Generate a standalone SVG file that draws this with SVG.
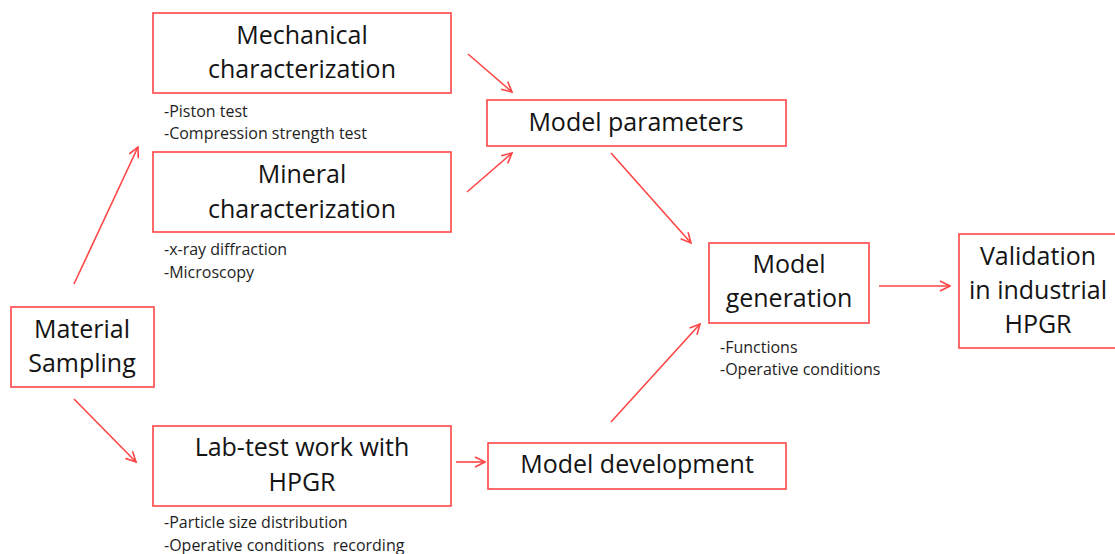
<svg xmlns="http://www.w3.org/2000/svg" width="1115" height="554" viewBox="0 0 1115 554">
  <style>
    .box { fill: #ffffff; stroke: #ff4545; stroke-width: 1.6; }
    .title { font-family: "Open Sans", "Liberation Sans", sans-serif; font-size: 25px; fill: #141414; text-anchor: middle; }
    .note { font-family: "Open Sans", "Liberation Sans", sans-serif; font-size: 16px; fill: #1e1e1e; }
    .conn { fill: none; stroke: #ff4545; stroke-width: 1.6; marker-end: url(#arrow); }
  </style>
  <defs>
    <marker id="arrow" viewBox="0 0 12 12" refX="11" refY="6" markerWidth="12" markerHeight="12" markerUnits="userSpaceOnUse" orient="auto">
      <path d="M1,1 L11,6 L1,11" fill="none" stroke="#ff4545" stroke-width="1.6"/>
    </marker>
  </defs>
  <rect width="1115" height="554" fill="#ffffff"/>

  <g id="connectors">
    <line class="conn" x1="74" y1="284" x2="138" y2="147"/>
    <line class="conn" x1="74" y1="399" x2="136" y2="462"/>
    <line class="conn" x1="468" y1="54" x2="512" y2="92"/>
    <line class="conn" x1="467" y1="192" x2="512" y2="153"/>
    <line class="conn" x1="611" y1="153" x2="691" y2="243"/>
    <line class="conn" x1="456" y1="462" x2="485" y2="462"/>
    <line class="conn" x1="611" y1="422" x2="700" y2="324"/>
    <line class="conn" x1="879" y1="286" x2="950" y2="286"/>
  </g>

  <g id="material-sampling">
    <rect class="box" x="11" y="307" width="143" height="80"/>
    <text class="title" x="82" y="338">Material</text>
    <text class="title" x="82" y="372">Sampling</text>
  </g>

  <g id="mechanical-characterization">
    <rect class="box" x="153" y="13" width="298" height="80"/>
    <text class="title" x="302" y="44">Mechanical</text>
    <text class="title" x="302" y="78">characterization</text>
    <text class="note" x="164" y="117">-Piston test</text>
    <text class="note" x="164" y="139">-Compression strength test</text>
  </g>

  <g id="mineral-characterization">
    <rect class="box" x="153" y="152" width="298" height="80"/>
    <text class="title" x="302" y="183">Mineral</text>
    <text class="title" x="302" y="218">characterization</text>
    <text class="note" x="164" y="255">-x-ray diffraction</text>
    <text class="note" x="164" y="278">-Microscopy</text>
  </g>

  <g id="lab-test">
    <rect class="box" x="153" y="426" width="298" height="80"/>
    <text class="title" x="302" y="456">Lab-test work with</text>
    <text class="title" x="302" y="491">HPGR</text>
    <text class="note" x="164" y="528">-Particle size distribution</text>
    <text class="note" x="164" y="551">-Operative conditions&#160;&#160;recording</text>
  </g>

  <g id="model-parameters">
    <rect class="box" x="487" y="100" width="299" height="46"/>
    <text class="title" x="636" y="131">Model parameters</text>
  </g>

  <g id="model-development">
    <rect class="box" x="488" y="443" width="298" height="46"/>
    <text class="title" x="637" y="473">Model development</text>
  </g>

  <g id="model-generation">
    <rect class="box" x="709" y="243" width="160" height="80"/>
    <text class="title" x="789" y="273">Model</text>
    <text class="title" x="789" y="307">generation</text>
    <text class="note" x="720" y="353">-Functions</text>
    <text class="note" x="720" y="375">-Operative conditions</text>
  </g>

  <g id="validation">
    <!-- right side runs off the canvas edge -->
    <rect class="box" x="959" y="234" width="170" height="114"/>
    <text class="title" x="1038" y="265">Validation</text>
    <text class="title" x="1038" y="299">in industrial</text>
    <text class="title" x="1038" y="333">HPGR</text>
  </g>
</svg>
